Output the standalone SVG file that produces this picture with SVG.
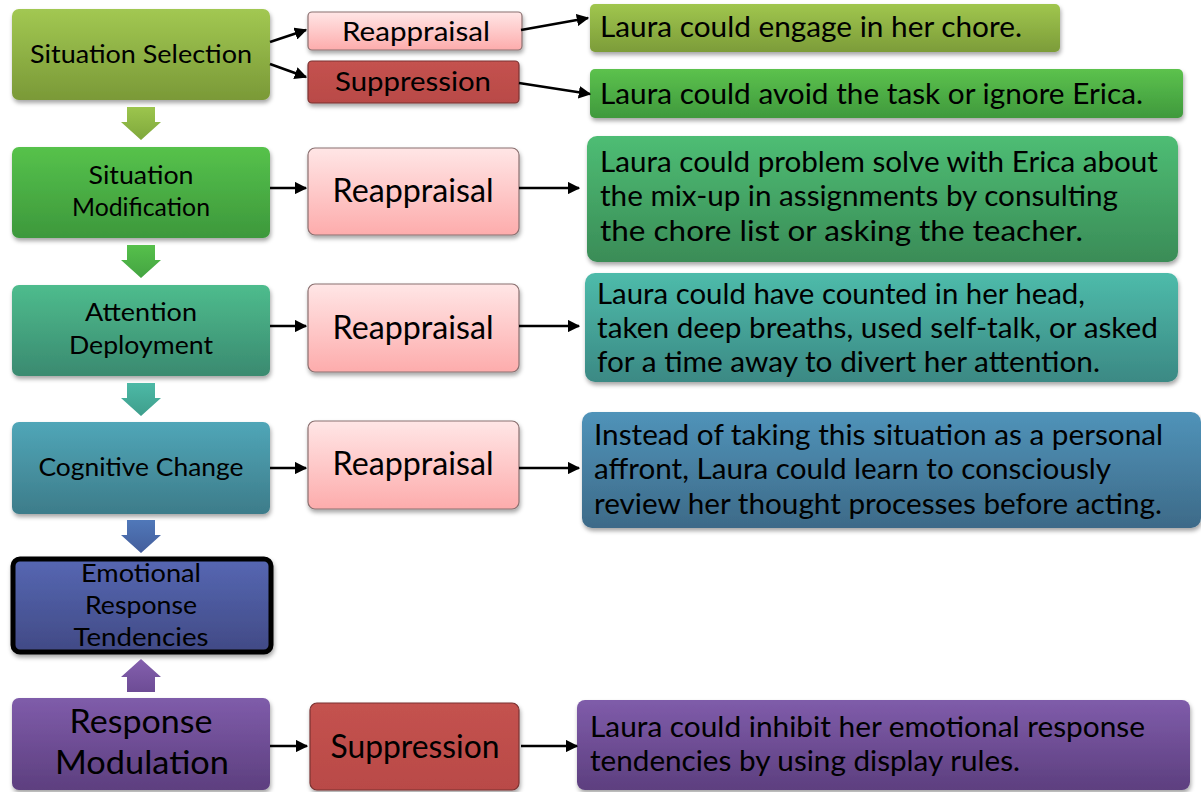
<svg xmlns="http://www.w3.org/2000/svg" width="1201" height="792" viewBox="0 0 1201 792">
<style>
text{font-family:Lato,"Liberation Sans",sans-serif;fill:#000}
.lbl{font-size:25.5px;text-anchor:middle}
.big{font-size:33px;text-anchor:middle}
.mid{font-size:32px;text-anchor:middle}
.sm{font-size:27.5px;text-anchor:middle}
.desc{font-size:28.5px}
.con{stroke:#000;stroke-width:2.5;fill:none;marker-end:url(#ah)}
</style>
<defs>
<filter id="sh" x="-5%" y="-5%" width="115%" height="125%"><feDropShadow dx="1" dy="3" stdDeviation="2" flood-color="#000" flood-opacity="0.35"/></filter>
<marker id="ah" viewBox="0 0 10 10" refX="9" refY="5" markerWidth="5" markerHeight="5" orient="auto" markerUnits="strokeWidth"><path d="M0,0 L10,5 L0,10 Z" fill="#000"/></marker>
<linearGradient id="gSS" x1="0" y1="0" x2="0" y2="1"><stop offset="0" stop-color="#A2C852"/><stop offset="1" stop-color="#7A9937"/></linearGradient>
<linearGradient id="gSM" x1="0" y1="0" x2="0" y2="1"><stop offset="0" stop-color="#56C24B"/><stop offset="1" stop-color="#3D983C"/></linearGradient>
<linearGradient id="gAD" x1="0" y1="0" x2="0" y2="1"><stop offset="0" stop-color="#4EBC8D"/><stop offset="1" stop-color="#3A8A70"/></linearGradient>
<linearGradient id="gCC" x1="0" y1="0" x2="0" y2="1"><stop offset="0" stop-color="#50A6B8"/><stop offset="1" stop-color="#3D7C8A"/></linearGradient>
<linearGradient id="gER" x1="0" y1="0" x2="0" y2="1"><stop offset="0" stop-color="#5667B3"/><stop offset="1" stop-color="#414A85"/></linearGradient>
<linearGradient id="gRM" x1="0" y1="0" x2="0" y2="1"><stop offset="0" stop-color="#7F5CAA"/><stop offset="1" stop-color="#5D3F7F"/></linearGradient>
<linearGradient id="gPk" x1="0" y1="0" x2="0" y2="1"><stop offset="0" stop-color="#FFE6E6"/><stop offset="1" stop-color="#FDACAC"/></linearGradient>
<linearGradient id="gRd" x1="0" y1="0" x2="0" y2="1"><stop offset="0" stop-color="#C4524F"/><stop offset="1" stop-color="#B94A47"/></linearGradient>
<linearGradient id="gR1" x1="0" y1="0" x2="0" y2="1"><stop offset="0" stop-color="#A0C64E"/><stop offset="1" stop-color="#7C9C39"/></linearGradient>
<linearGradient id="gR2" x1="0" y1="0" x2="0" y2="1"><stop offset="0" stop-color="#5CC24D"/><stop offset="1" stop-color="#3F993D"/></linearGradient>
<linearGradient id="gR3" x1="0" y1="0" x2="0" y2="1"><stop offset="0" stop-color="#4EBD74"/><stop offset="1" stop-color="#3A8C57"/></linearGradient>
<linearGradient id="gR4" x1="0" y1="0" x2="0" y2="1"><stop offset="0" stop-color="#4EBBAA"/><stop offset="1" stop-color="#3B8984"/></linearGradient>
<linearGradient id="gR5" x1="0" y1="0" x2="0" y2="1"><stop offset="0" stop-color="#5093B9"/><stop offset="1" stop-color="#3D6A88"/></linearGradient>
<linearGradient id="gA1" x1="0" y1="0" x2="0" y2="1"><stop offset="0" stop-color="#9CC54D"/><stop offset="1" stop-color="#7FA83C"/></linearGradient>
<linearGradient id="gA2" x1="0" y1="0" x2="0" y2="1"><stop offset="0" stop-color="#56C04B"/><stop offset="1" stop-color="#44A442"/></linearGradient>
<linearGradient id="gA3" x1="0" y1="0" x2="0" y2="1"><stop offset="0" stop-color="#4DB9A6"/><stop offset="1" stop-color="#3E9E8C"/></linearGradient>
<linearGradient id="gA4" x1="0" y1="0" x2="0" y2="1"><stop offset="0" stop-color="#5078B9"/><stop offset="1" stop-color="#445E9C"/></linearGradient>
<linearGradient id="gA5" x1="0" y1="0" x2="0" y2="1"><stop offset="0" stop-color="#8460AE"/><stop offset="1" stop-color="#6D4C95"/></linearGradient>
</defs>

<g id="situation-selection"><rect x="12" y="9" width="258" height="91" rx="7" fill="url(#gSS)" filter="url(#sh)"/><text class="lbl" x="141" y="63" textLength="222" lengthAdjust="spacingAndGlyphs">Situation Selection</text></g>
<g id="situation-modification"><rect x="12" y="147" width="258" height="91" rx="7" fill="url(#gSM)" filter="url(#sh)"/><text class="lbl" x="141" y="184" textLength="105" lengthAdjust="spacingAndGlyphs">Situation</text><text class="lbl" x="141" y="216" textLength="138" lengthAdjust="spacingAndGlyphs">Modification</text></g>
<g id="attention-deployment"><rect x="12" y="285" width="258" height="91" rx="7" fill="url(#gAD)" filter="url(#sh)"/><text class="lbl" x="141" y="321" textLength="112" lengthAdjust="spacingAndGlyphs">Attention</text><text class="lbl" x="141" y="354" textLength="144" lengthAdjust="spacingAndGlyphs">Deployment</text></g>
<g id="cognitive-change"><rect x="12" y="422" width="258" height="92" rx="7" fill="url(#gCC)" filter="url(#sh)"/><text class="lbl" x="141" y="476" textLength="205" lengthAdjust="spacingAndGlyphs">Cognitive Change</text></g>
<g id="emotional-response"><rect x="13" y="559" width="258" height="93" rx="7" fill="url(#gER)" stroke="#000" stroke-width="5" filter="url(#sh)"/><text class="lbl" x="141" y="582" textLength="120" lengthAdjust="spacingAndGlyphs">Emotional</text><text class="lbl" x="141" y="614" textLength="112" lengthAdjust="spacingAndGlyphs">Response</text><text class="lbl" x="141" y="646" textLength="135" lengthAdjust="spacingAndGlyphs">Tendencies</text></g>
<g id="response-modulation"><rect x="12" y="698" width="258" height="92" rx="7" fill="url(#gRM)" filter="url(#sh)"/><text class="big" x="141" y="733" textLength="143" lengthAdjust="spacingAndGlyphs">Response</text><text class="big" x="142" y="774" textLength="174" lengthAdjust="spacingAndGlyphs">Modulation</text></g>

<g id="flow-arrows">
<path d="M127,107 H155 V122 H161 L141,140 L121,122 H127 Z" fill="url(#gA1)"/>
<path d="M127,245 H155 V260 H161 L141,278 L121,260 H127 Z" fill="url(#gA2)"/>
<path d="M127,383 H155 V398 H161 L141,416 L121,398 H127 Z" fill="url(#gA3)"/>
<path d="M127,520 H155 V535 H161 L141,553 L121,535 H127 Z" fill="url(#gA4)"/>
<path d="M127,692 H155 V677 H161 L141,659 L121,677 H127 Z" fill="url(#gA5)"/>
</g>

<g id="reappraisal-1"><rect x="308" y="12" width="214" height="38" rx="4" fill="url(#gPk)" stroke="#8A7070" stroke-width="1.2" filter="url(#sh)"/><text class="sm" x="416" y="41" textLength="148" lengthAdjust="spacingAndGlyphs">Reappraisal</text></g>
<g id="suppression-1"><rect x="308" y="61" width="211" height="42" rx="4" fill="url(#gRd)" stroke="#7A3331" stroke-width="1.2" filter="url(#sh)"/><text class="sm" x="413" y="91" textLength="156" lengthAdjust="spacingAndGlyphs">Suppression</text></g>
<g id="reappraisal-2"><rect x="308" y="148" width="211" height="87" rx="7" fill="url(#gPk)" stroke="#8A7070" stroke-width="1.2" filter="url(#sh)"/><text class="mid" x="413" y="202" textLength="161" lengthAdjust="spacingAndGlyphs">Reappraisal</text></g>
<g id="reappraisal-3"><rect x="308" y="284" width="211" height="88" rx="7" fill="url(#gPk)" stroke="#8A7070" stroke-width="1.2" filter="url(#sh)"/><text class="mid" x="413" y="339" textLength="161" lengthAdjust="spacingAndGlyphs">Reappraisal</text></g>
<g id="reappraisal-4"><rect x="308" y="421" width="211" height="88" rx="7" fill="url(#gPk)" stroke="#8A7070" stroke-width="1.2" filter="url(#sh)"/><text class="mid" x="413" y="475" textLength="161" lengthAdjust="spacingAndGlyphs">Reappraisal</text></g>
<g id="suppression-2"><rect x="310" y="703" width="209" height="87" rx="7" fill="url(#gRd)" stroke="#7A3331" stroke-width="1.2" filter="url(#sh)"/><text class="mid" x="415" y="758" textLength="169" lengthAdjust="spacingAndGlyphs">Suppression</text></g>

<g id="desc-1a"><rect x="590" y="4" width="470" height="48" rx="5" fill="url(#gR1)" filter="url(#sh)"/><text class="desc" x="600" y="37" textLength="422" lengthAdjust="spacingAndGlyphs">Laura could engage in her chore.</text></g>
<g id="desc-1b"><rect x="590" y="69" width="593" height="49" rx="5" fill="url(#gR2)" filter="url(#sh)"/><text class="desc" x="600" y="104" textLength="543" lengthAdjust="spacingAndGlyphs">Laura could avoid the task or ignore Erica.</text></g>
<g id="desc-2"><rect x="587" y="136" width="591" height="126" rx="10" fill="url(#gR3)" filter="url(#sh)"/><text class="desc" x="600" y="172" textLength="558" lengthAdjust="spacingAndGlyphs">Laura could problem solve with Erica about</text><text class="desc" x="600" y="206" textLength="518" lengthAdjust="spacingAndGlyphs">the mix-up in assignments by consulting</text><text class="desc" x="600" y="241" textLength="483" lengthAdjust="spacingAndGlyphs">the chore list or asking the teacher.</text></g>
<g id="desc-3"><rect x="585" y="273" width="593" height="109" rx="10" fill="url(#gR4)" filter="url(#sh)"/><text class="desc" x="597" y="304" textLength="488" lengthAdjust="spacingAndGlyphs">Laura could have counted in her head,</text><text class="desc" x="597" y="338" textLength="561" lengthAdjust="spacingAndGlyphs">taken deep breaths, used self-talk, or asked</text><text class="desc" x="597" y="372" textLength="503" lengthAdjust="spacingAndGlyphs">for a time away to divert her attention.</text></g>
<g id="desc-4"><rect x="582" y="412" width="619" height="116" rx="10" fill="url(#gR5)" filter="url(#sh)"/><text class="desc" x="594" y="445" textLength="569" lengthAdjust="spacingAndGlyphs">Instead of taking this situation as a personal</text><text class="desc" x="594" y="479" textLength="517" lengthAdjust="spacingAndGlyphs">affront, Laura could learn to consciously</text><text class="desc" x="594" y="514" textLength="568" lengthAdjust="spacingAndGlyphs">review her thought processes before acting.</text></g>
<g id="desc-6"><rect x="577" y="700" width="613" height="90" rx="8" fill="url(#gRM)" filter="url(#sh)"/><text class="desc" x="590" y="737" textLength="555" lengthAdjust="spacingAndGlyphs">Laura could inhibit her emotional response</text><text class="desc" x="590" y="771" textLength="430" lengthAdjust="spacingAndGlyphs">tendencies by using display rules.</text></g>

<g id="connectors">
<line class="con" x1="270" y1="42" x2="306" y2="30"/>
<line class="con" x1="270" y1="64" x2="306" y2="77"/>
<line class="con" x1="521" y1="30" x2="588" y2="18"/>
<line class="con" x1="519" y1="83" x2="590" y2="94"/>
<line class="con" x1="270" y1="188" x2="306" y2="188"/>
<line class="con" x1="519" y1="188" x2="579" y2="188"/>
<line class="con" x1="270" y1="326" x2="306" y2="326"/>
<line class="con" x1="519" y1="326" x2="579" y2="326"/>
<line class="con" x1="270" y1="468" x2="306" y2="468"/>
<line class="con" x1="519" y1="468" x2="579" y2="468"/>
<line class="con" x1="270" y1="746" x2="307" y2="746"/>
<line class="con" x1="521" y1="746" x2="577" y2="746"/>
</g>
</svg>
